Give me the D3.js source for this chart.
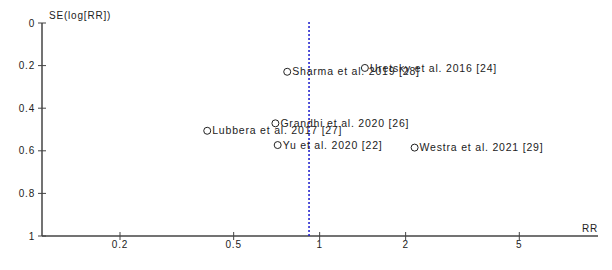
<!DOCTYPE html>
<html><head><meta charset="utf-8">
<script src="https://cdn.jsdelivr.net/npm/d3@7/dist/d3.min.js"></script>
<style>body{margin:0;background:#fff;} svg{display:block;}</style>
</head><body>
<script>
const studies = ["Uretsky et al. 2016 [24]","Sharma et al. 2019 [28]","Grandhi et al. 2020 [26]","Lubbera et al. 2017 [27]","Yu et al. 2020 [22]","Westra et al. 2021 [29]"];
const rr = [1.44, 0.77, 0.70, 0.404, 0.713, 2.15];
const se = [0.211, 0.229, 0.471, 0.506, 0.573, 0.585];
const pooledRR = 0.918;
const xTicks = [0.2, 0.5, 1, 2, 5];
const yTicks = [0, 0.2, 0.4, 0.6, 0.8, 1];

const W = 612, H = 270;
const svg = d3.select("body").append("svg").attr("width", W).attr("height", H);
const x = d3.scaleLog().domain([0.2, 5]).range([120, 519.3]);
const y = d3.scaleLinear().domain([0, 1]).range([23, 236]);
const x0 = 42, x1 = 598;
const axisColor = "#444";
const font = "Liberation Sans, Arial, sans-serif";

// y axis
svg.append("line").attr("x1", x0).attr("x2", x0).attr("y1", y(0)).attr("y2", y(1))
  .attr("stroke", axisColor).attr("stroke-width", 1.5);
yTicks.forEach(t => {
  svg.append("line").attr("x1", x0 - 4).attr("x2", x0 + 4).attr("y1", y(t)).attr("y2", y(t))
    .attr("stroke", axisColor).attr("stroke-width", 1);
  svg.append("text").attr("x", x0 - 7).attr("y", y(t)).attr("dy", "0.35em")
    .attr("text-anchor", "end").attr("font-family", font).attr("font-size", 10)
    .attr("letter-spacing", "0.8px").attr("fill", "#222").text(d3.format("~g")(t));
});
svg.append("text").attr("x", x0 + 7).attr("y", y(0) - 4).attr("font-family", font)
  .attr("font-size", 10).attr("letter-spacing", "0.8px").attr("fill", "#222").text("SE(log[RR])");

// x axis
svg.append("line").attr("x1", x0).attr("x2", x1).attr("y1", y(1)).attr("y2", y(1))
  .attr("stroke", axisColor).attr("stroke-width", 1.5);
xTicks.forEach(t => {
  svg.append("line").attr("x1", x(t)).attr("x2", x(t)).attr("y1", y(1) - 4).attr("y2", y(1) + 4)
    .attr("stroke", axisColor).attr("stroke-width", 1);
  svg.append("text").attr("x", x(t)).attr("y", y(1) + 8).attr("dy", "0.35em")
    .attr("text-anchor", "middle").attr("font-family", font).attr("font-size", 10)
    .attr("letter-spacing", "0.8px").attr("fill", "#222").text(t);
});
svg.append("text").attr("x", x1).attr("y", y(1) - 4).attr("text-anchor", "end")
  .attr("font-family", font).attr("font-size", 10).attr("letter-spacing", "0.8px")
  .attr("fill", "#222").text("RR");

// pooled line
svg.append("line").attr("x1", x(pooledRR)).attr("x2", x(pooledRR)).attr("y1", y(0) - 1).attr("y2", y(1))
  .attr("stroke", "#1a1acc").attr("stroke-width", 1.5).attr("stroke-dasharray", "2,2");

// points
const g = svg.append("g");
studies.forEach((s, i) => {
  const cx = x(rr[i]), cy = y(se[i]);
  g.append("circle").attr("cx", cx).attr("cy", cy).attr("r", 3.5)
    .attr("fill", "none").attr("stroke", "#222").attr("stroke-width", 1);
  g.append("text").attr("x", cx + 5).attr("y", cy).attr("dy", "0.35em")
    .attr("font-family", font).attr("font-size", 10.5).attr("letter-spacing", "0.8px")
    .attr("fill", "#222").text(s);
});
</script>
</body></html>
